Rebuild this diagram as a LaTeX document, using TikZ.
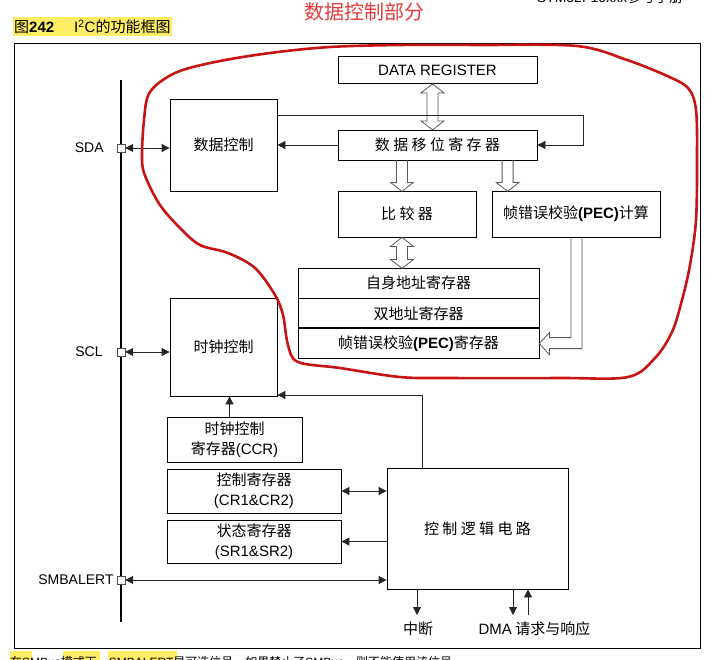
\documentclass[tikz,border=0pt]{standalone}
\usepackage{fontspec}
\setmainfont{Liberation Sans}
\newfontfamily\zhfont{Noto Sans CJK SC}
\usetikzlibrary{arrows.meta, positioning, calc}
\definecolor{hilite}{RGB}{255,238,100}
\definecolor{notered}{RGB}{228,60,60}
\definecolor{penred}{RGB}{200,20,20}
\newcommand{\latn}[1]{{\normalfont #1}}

\begin{document}
\begin{tikzpicture}[x=1pt, y=-1pt,
						block/.style={draw, rectangle, inner sep=0pt, align=center, line width=0.8pt, font=\zhfont\fontsize{15}{20}\selectfont},
						port/.style={draw=black!70, fill=white, rectangle, minimum size=8pt, inner sep=0pt},
						sig/.style={inner sep=0pt, font=\fontsize{14}{16}\selectfont},
						lbl/.style={inner sep=0pt, font=\zhfont\fontsize{15}{17}\selectfont},
						hollow/.style={draw=black!65, line width=0.8pt},
						arr/.style={draw=black!85, line width=0.8pt, -{Triangle[length=8pt,width=8pt]}},
						twoway/.style={{Triangle[length=8pt,width=8pt]}-{Triangle[length=8pt,width=8pt]}},
						every edge/.append style={draw=black!85, line width=0.8pt, -{Triangle[length=8pt,width=8pt]}},
						pics/fatdn/.style={code={\draw[hollow] (-5.5,0) -- (-5.5,#1-9) -- (-11.5,#1-9) -- (0,#1) -- (11.5,#1-9) -- (5.5,#1-9) -- (5.5,0);}},
						pics/fatud/.style={code={\draw[hollow] (0,0) -- (11.5,9) -- (5.5,9) -- (5.5,#1-9) -- (11.5,#1-9) -- (0,#1) -- (-11.5,#1-9) -- (-5.5,#1-9) -- (-5.5,9) -- (-11.5,9) -- cycle;}}]
		\useasboundingbox (0,0) rectangle (711,659);

		% page around the figure
		\node (caption) [fill=hilite, inner sep=1pt, minimum height=19pt, anchor=west, font=\fontsize{15}{17}\selectfont] at (13,26.5) {{\zhfont 图}\textbf{242}\hspace{20pt}I\textsuperscript{2}C{\zhfont 的功能框图}};
		\node (title) [text=notered, inner sep=0pt, font=\zhfont\fontsize{20}{22}\selectfont] at (364,12) {数据控制部分};
		\node (manual) [anchor=base, inner sep=0pt, font=\zhfont\fontsize{14}{16}\selectfont] at (610,2) {\latn{STM32F10xxx}参考手册};
		\fill[hilite] (10,651) rectangle (32,672) (63,651) rectangle (100,672) (108,651) rectangle (177,672);
		\node (note) [anchor=base west, inner sep=0pt, font=\zhfont\fontsize{12}{14}\selectfont] at (10,666) {在\latn{SMBus}模式下，\latn{SMBALERT}是可选信号。如果禁止了\latn{SMBus}，则不能使用该信号。};
		\draw[line width=0.8pt] (14,43) rectangle (700,648);

		% bus and pins
		\draw[line width=2.5pt] (121,80) -- (121,622);
		\node (sda) [port] at (121,148) {};
		\node (scl) [port] at (121,352) {};
		\node (alert) [port] at (121,580) {};
		\node (sdalbl) [sig, left=13pt of sda] {SDA};
		\node (scllbl) [sig, left=14pt of scl] {SCL};
		\node (alertlbl) [sig, left=3pt of alert] {SMBALERT};

		% data part
		\node (dreg) [block, minimum width=199pt, minimum height=27pt, font=\fontsize{15}{17}\selectfont] at (437.5,70) {DATA REGISTER};
		\node (shift) [block, minimum width=199pt, minimum height=30pt] at (437.5,145) {数 据 移 位 寄 存 器};
		\node (cmp) [block, minimum width=138pt, minimum height=46pt] at (407,214) {比 较 器};
		\node (pecc) [block, minimum width=168pt, minimum height=46pt] at (576,214) {帧错误校验\latn{\bfseries(PEC)}计算};
		\node (own) [block, minimum width=241pt, minimum height=30pt] at (418.5,283) {自身地址寄存器};
		\node (dual) [block, minimum width=241pt, minimum height=29pt, below=0pt of own] {双地址寄存器};
		\node (pecr) [block, minimum width=241pt, minimum height=30pt, below=0pt of dual] {帧错误校验\latn{\bfseries(PEC)}寄存器};
		\node (dctl) [block, minimum width=107pt, minimum height=92pt] at (223.5,145) {数据控制};

		% clock and control part
		\node (clk) [block, minimum width=107pt, minimum height=98pt] at (223.5,347) {时钟控制};
		\node (ccr) [block, minimum width=135pt, minimum height=45pt] at (234.5,439.5) {时钟控制\\寄存器\latn{(CCR)}};
		\node (cr) [block, minimum width=174pt, minimum height=44pt] at (254,491) {控制寄存器\\\latn{(CR1\&CR2)}};
		\node (sr) [block, minimum width=174pt, minimum height=43pt] at (254,541.5) {状态寄存器\\\latn{(SR1\&SR2)}};
		\node (logic) [block, minimum width=181pt, minimum height=121pt] at (477.5,528.5) {控 制 逻 辑 电 路};

		% wide arrows
		\pic at ($(dreg.south)+(-5,0)$) {fatud=46};
		\pic at ($(cmp.north |- shift.south)+(-5,0)$) {fatdn=31};
		\pic at ($(pecc.north west |- shift.south)+(16,0)$) {fatdn=31};
		\pic at ($(cmp.south)+(-5,0)$) {fatud=31};
		\draw[hollow] ($(pecc.south)+(-5,0)$) |- ($(pecr.east)+(10,-6)$) -- ++(0,-5) -- (pecr.east) -- ++(10,11) -- ++(0,-6) -| ($(pecc.south)+(6,0)$);

		% thin arrows
		\path 	(sda)			edge[twoway]	(sda -| dctl.west)
				(scl)			edge[twoway]	(scl -| clk.west)
				(alert)			edge[twoway]	(alert -| logic.west)
				(cr.east)		edge[twoway]	(cr.east -| logic.west)
				(sr.east -| logic.west)	edge	(sr.east)
				(shift.west)	edge	(shift.west -| dctl.east);

		\coordinate (fb) at (583,115);
		\draw[arr] (fb -| dctl.east) -- (fb) |- (shift.east);
		\coordinate (clkfb) at (422,395);
		\draw[arr] (logic.north -| clkfb) -- (clkfb) -- (clkfb -| clk.east);
		\draw[arr] ($(ccr.north)+(-5,0)$) -- ($(ccr.north |- clk.south)+(-5,0)$);

		\coordinate (irq) at (417,615);
		\coordinate (dmaq) at (513,615);
		\coordinate (dmaa) at (528,615);
		\draw[arr] (logic.south -| irq) -- (irq);
		\draw[arr] (logic.south -| dmaq) -- (dmaq);
		\draw[arr] (dmaa) -- (logic.south -| dmaa);
		\node (irqlbl) [lbl] at (418,629) {中断};
		\node (dmalbl) [lbl] at (534.5,629) {\latn{DMA} 请求与响应};

		% hand drawn mark round the data part
		\draw[penred, line width=2.6pt, line join=round] plot[smooth cycle, tension=0.55] coordinates {
			(150,92) (175,73) (215,62) (270,53) (330,47) (400,45) (480,45) (577,46)
			(627,60) (665,75) (688,88) (696,110) (697,160) (696,220) (690,265) (682,300)
			(672,332) (655,358) (628,377) (560,378) (450,378) (400,377) (340,368) (298,362)
			(288,345) (283,315) (275,295) (255,268) (228,253) (200,245) (180,228) (160,205)
			(146,178) (142,160) (144,120)};
	\end{tikzpicture}
\end{document}
